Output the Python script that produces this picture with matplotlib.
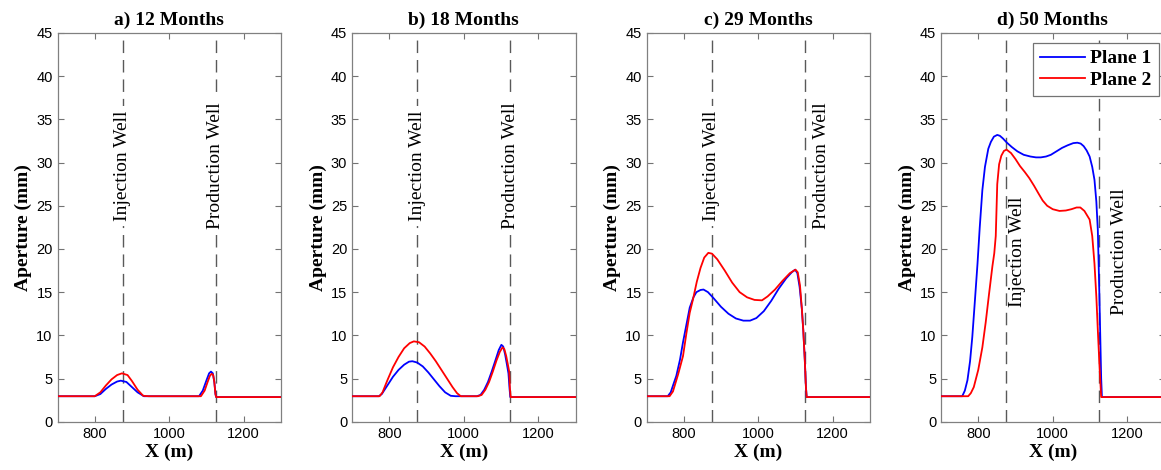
import numpy as np
import matplotlib
matplotlib.use('Agg')
import matplotlib.pyplot as plt

plt.rc('font', family='sans-serif')
plt.rc('font', **{'sans-serif': ['Liberation Sans', 'DejaVu Sans']})
plt.rc('xtick', labelsize=10.5)
plt.rc('ytick', labelsize=10.5)

serif = ['Liberation Serif', 'DejaVu Serif']

titles = ['a) 12 Months', 'b) 18 Months', 'c) 29 Months', 'd) 50 Months']
well_inj = 875
well_prod = 1125

# ---- panel a (12 months)
a_x1 = [700, 800, 815, 830, 845, 860, 870, 885, 900, 915, 932, 950, 1080, 1090, 1100, 1107, 1112, 1117, 1121, 1124, 1126, 1300]
a_y1 = [2.95, 2.95, 3.2, 3.8, 4.3, 4.65, 4.75, 4.6, 4.0, 3.4, 2.95, 2.95, 2.95, 3.6, 4.8, 5.6, 5.8, 5.6, 4.6, 3.2, 2.85, 2.85]
a_x2 = [700, 800, 815, 830, 845, 860, 873, 888, 900, 915, 930, 945, 1085, 1095, 1103, 1109, 1114, 1118, 1121, 1124, 1126, 1300]
a_y2 = [2.95, 2.95, 3.4, 4.2, 4.9, 5.4, 5.6, 5.4, 4.7, 3.7, 3.0, 2.95, 2.95, 3.6, 4.6, 5.3, 5.55, 5.4, 4.6, 3.2, 2.85, 2.85]

# ---- panel b (18 months)
b_x1 = [700, 772, 780, 795, 810, 825, 840, 853, 862, 875, 890, 905, 920, 935, 950, 965, 978, 1035, 1045, 1055, 1065, 1075, 1085, 1094, 1101, 1106, 1111, 1116, 1120, 1123, 1125, 1300]
b_y1 = [2.95, 2.95, 3.2, 4.2, 5.2, 6.0, 6.6, 6.95, 7.0, 6.85, 6.4, 5.7, 4.9, 4.1, 3.4, 3.0, 2.95, 2.95, 3.1, 3.7, 4.6, 5.8, 7.1, 8.3, 8.9, 8.7, 7.8, 6.6, 5.6, 3.8, 2.85, 2.85]
b_x2 = [700, 774, 782, 795, 810, 825, 840, 855, 866, 880, 895, 910, 925, 940, 955, 970, 982, 992, 1038, 1048, 1058, 1068, 1078, 1088, 1097, 1104, 1109, 1114, 1119, 1122, 1124, 1126, 1300]
b_y2 = [2.95, 2.95, 3.4, 4.8, 6.3, 7.5, 8.5, 9.1, 9.3, 9.2, 8.7, 7.9, 7.0, 6.0, 5.0, 4.0, 3.3, 2.95, 2.95, 3.1, 3.7, 4.6, 5.8, 7.1, 8.1, 8.6, 8.4, 7.6, 6.5, 5.8, 3.8, 2.85, 2.85]

# ---- panel c (29 months)
c_x1 = [700, 757, 765, 772, 780, 790, 798, 807, 816, 826, 834, 845, 853, 865, 880, 900, 920, 940, 960, 978, 995, 1015, 1035, 1055, 1075, 1090, 1099, 1105, 1111, 1117, 1121, 1125, 1128, 1130, 1300]
c_y1 = [2.95, 2.95, 3.4, 4.3, 5.3, 7.2, 9.2, 11.2, 13.2, 14.4, 15.0, 15.25, 15.3, 15.0, 14.3, 13.3, 12.5, 11.95, 11.7, 11.7, 12.0, 12.8, 14.0, 15.4, 16.6, 17.3, 17.6, 17.2, 15.6, 13.1, 10.5, 7.1, 4.0, 2.85, 2.85]
c_x2 = [700, 762, 771, 785, 798, 807, 816, 825, 835, 845, 855, 866, 876, 890, 910, 930, 950, 970, 990, 1010, 1025, 1045, 1065, 1085, 1100, 1106, 1112, 1117, 1121, 1125, 1128, 1130, 1300]
c_y2 = [2.95, 2.95, 3.5, 5.5, 7.6, 10.2, 12.6, 14.2, 16.2, 17.8, 19.0, 19.55, 19.45, 18.8, 17.5, 16.1, 15.0, 14.4, 14.1, 14.05, 14.5, 15.3, 16.3, 17.2, 17.6, 17.3, 15.8, 13.1, 10.5, 7.1, 4.0, 2.85, 2.85]

# ---- panel d (50 months)
d_x1 = [700, 757, 764, 771, 778, 784, 791, 798, 804, 811, 818, 827, 834, 842, 851, 858, 866, 877, 890, 905, 922, 940, 955, 968, 982, 995, 1010, 1025, 1040, 1055, 1066, 1075, 1083, 1091, 1099, 1106, 1112, 1117, 1121, 1125, 1128, 1130, 1132, 1300]
d_y1 = [2.95, 2.95, 3.6, 4.8, 7.0, 9.8, 14.0, 18.3, 22.5, 26.8, 29.5, 31.6, 32.4, 33.0, 33.2, 33.1, 32.8, 32.3, 31.8, 31.3, 30.9, 30.7, 30.6, 30.6, 30.7, 30.9, 31.3, 31.7, 32.0, 32.25, 32.3, 32.2, 31.9, 31.4, 30.7, 29.5, 28.0, 25.5, 22.2, 15.0, 9.0, 5.0, 2.85, 2.85]
d_x2 = [700, 773, 780, 788, 800, 811, 820, 829, 838, 843, 847, 851, 856, 862, 869, 876, 888, 900, 912, 925, 937, 950, 962, 973, 985, 1000, 1018, 1035, 1050, 1064, 1074, 1085, 1099, 1106, 1112, 1117, 1121, 1126, 1130, 1300]
d_y2 = [2.95, 2.95, 3.3, 4.0, 6.0, 8.6, 11.5, 14.8, 18.0, 19.5, 21.5, 27.5, 29.8, 30.8, 31.35, 31.5, 31.1, 30.4, 29.6, 28.9, 28.2, 27.3, 26.4, 25.6, 25.0, 24.6, 24.4, 24.45, 24.6, 24.8, 24.8, 24.4, 23.4, 21.5, 18.3, 14.5, 10.6, 6.0, 2.85, 2.85]

series = [(a_x1, a_y1, a_x2, a_y2), (b_x1, b_y1, b_x2, b_y2),
          (c_x1, c_y1, c_x2, c_y2), (d_x1, d_y1, d_x2, d_y2)]

# text label positions (x, y) for each panel: injection, production
inj_pos = [(875, 29.6), (875, 29.6), (875, 29.6), (906, 19.7)]
prod_pos = [(1125, 29.6), (1125, 29.6), (1170, 29.6), (1178, 19.7)]
text_box = [(True, True), (True, True), (True, False), (False, False)]

W, H = 1161, 470
fig = plt.figure(figsize=(W / 100, H / 100), dpi=100)
lefts = [57.5, 352, 646.5, 941]
axw = 223.5
bot = 421.7
top = 33

for i in range(4):
    ax = fig.add_axes([lefts[i] / W, (H - bot) / H, axw / W, (bot - top) / H])
    x1, y1, x2, y2 = series[i]
    for xw in (well_inj, well_prod):
        ax.axvline(xw, color='0.35', lw=1.0, dashes=(9, 5), zorder=1)
    l1, = ax.plot(x1, y1, color='#0000ff', lw=1.3, zorder=3, label='Plane 1')
    l2, = ax.plot(x2, y2, color='#ff0000', lw=1.3, zorder=4, label='Plane 2')

    bb = dict(facecolor='white', edgecolor='none', boxstyle='square,pad=0.25')
    for (px, py), lab, boxed in zip([inj_pos[i], prod_pos[i]], ['Injection Well', 'Production Well'], text_box[i]):
        ax.text(px, py, lab, rotation=90, ha='center', va='center', family=serif,
                fontsize=14, zorder=2, bbox=bb if boxed else None)

    ax.set_xlim(700, 1300)
    ax.set_ylim(0, 45)
    ax.set_xticks([800, 1000, 1200])
    ax.set_yticks(np.arange(0, 46, 5))
    ax.tick_params(direction='in', top=True, right=True, length=4, color='0.45', labelcolor='black')
    for s in ax.spines.values():
        s.set_color('0.5')
        s.set_linewidth(0.9)
    ax.set_title(titles[i], family=serif, fontweight='bold', fontsize=14, pad=6)
    ax.set_xlabel('X (m)', family=serif, fontweight='bold', fontsize=14, labelpad=2)
    ax.set_ylabel('Aperture (mm)', family=serif, fontweight='bold', fontsize=14, labelpad=3)

    if i == 3:
        leg = ax.legend(handles=[l1, l2], loc='upper left',
                        bbox_to_anchor=(1033 / W, 1 - 43 / H), bbox_transform=fig.transFigure,
                        borderaxespad=0, prop={'family': serif, 'weight': 'bold', 'size': 14},
                        handlelength=2.3, handletextpad=0.3, labelspacing=0.2,
                        borderpad=0.35, fancybox=False, framealpha=1)
        leg.get_frame().set_edgecolor('0.45')
        leg.get_frame().set_linewidth(0.9)

fig.savefig('out.png', dpi=100)
